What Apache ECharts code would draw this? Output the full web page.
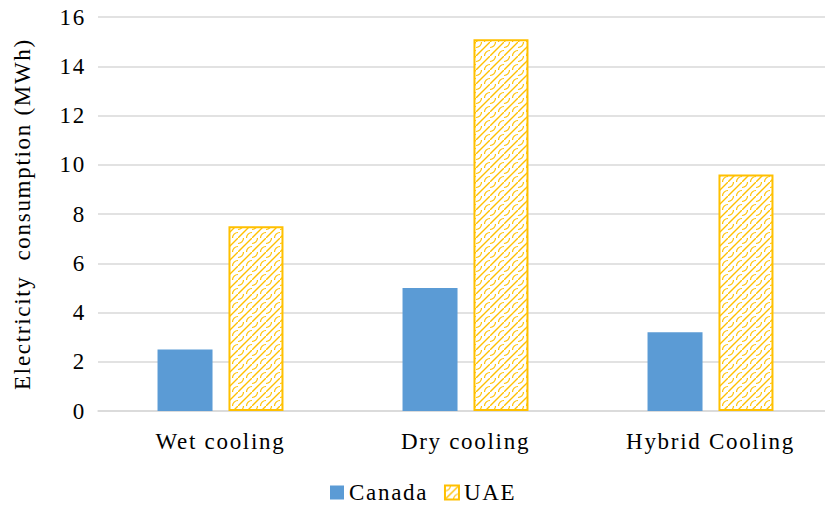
<!DOCTYPE html>
<html>
<head>
<meta charset="utf-8">
<script src="https://cdn.jsdelivr.net/npm/echarts@6/dist/echarts.min.js"></script>
<style>
  html, body { margin: 0; padding: 0; background: #fff; }
  #chart { width: 825px; height: 508px; }
  /* slightly open tracking for all chart text */
  #chart svg text { letter-spacing: 1.7px; }
</style>
</head>
<body>
<div id="chart"></div>
<script>
// Electricity consumption per cooling technology
const categories = ['Wet cooling', 'Dry cooling', 'Hybrid Cooling'];
const canadaValues = [2.5, 5.0, 3.2];
const uaeValues = [7.5, 15.1, 9.6];
const yTicks = [0, 2, 4, 6, 8, 10, 12, 14, 16];

const FONT = '"Liberation Serif", "Times New Roman", serif';
const BLUE = '#5B9BD5';
const GOLD = '#FFC000';

// Small repeating lattice tile used to fill the UAE bars
function latticeTile() {
  const s = 14;
  const c = document.createElement('canvas');
  c.width = s; c.height = s;
  const g = c.getContext('2d');
  g.fillStyle = '#fff';
  g.fillRect(0, 0, s, s);
  g.strokeStyle = GOLD;
  g.lineCap = 'round';
  // rising diagonal strands
  g.lineWidth = 1.4;
  g.beginPath();
  g.moveTo(-1, s + 1); g.lineTo(s + 1, -1);
  g.stroke();
  // scalloped cross strands between the diagonals
  g.lineWidth = 1.2;
  g.beginPath();
  g.arc(0, 0, 5.5, 0, Math.PI / 2);
  g.stroke();
  g.beginPath();
  g.arc(s, s, 5.5, Math.PI, Math.PI * 1.5);
  g.stroke();
  return c;
}
const uaeFill = { image: latticeTile(), repeat: 'repeat' };

const chart = echarts.init(document.getElementById('chart'), null, { renderer: 'svg' });
chart.setOption({
  animation: false,
  backgroundColor: '#fff',
  grid: { left: 98, top: 17, width: 735, height: 394, containLabel: false, outerBoundsMode: 'none' },
  legend: {
    top: 476,
    left: 325,
    itemWidth: 14,
    itemHeight: 14,
    itemGap: 26,
    textStyle: { fontFamily: FONT, fontSize: 23, color: '#000' },
    data: [
      { name: 'Canada', icon: 'rect', itemStyle: { color: BLUE } },
      { name: 'UAE', icon: 'rect', itemStyle: { color: uaeFill, borderColor: GOLD, borderWidth: 2 } }
    ]
  },
  xAxis: {
    type: 'category',
    data: categories,
    axisLine: { lineStyle: { color: '#D9D9D9', width: 1.5 } },
    axisTick: { show: false },
    axisLabel: { fontFamily: FONT, fontSize: 23, color: '#000', margin: 19 }
  },
  yAxis: {
    type: 'value',
    min: yTicks[0],
    max: yTicks[yTicks.length - 1],
    interval: 2,
    name: 'Electricity  consumption (MWh)',
    nameLocation: 'middle',
    nameGap: 64,
    nameTextStyle: { fontFamily: FONT, fontSize: 23, color: '#000' },
    axisLine: { show: false },
    axisTick: { show: false },
    axisLabel: { fontFamily: FONT, fontSize: 23, color: '#000', margin: 12 },
    splitLine: { lineStyle: { color: '#D9D9D9', width: 1.5 } }
  },
  series: [
    {
      name: 'Canada',
      type: 'bar',
      data: canadaValues,
      barWidth: 55,
      barGap: '29%',
      itemStyle: { color: BLUE }
    },
    {
      name: 'UAE',
      type: 'bar',
      data: uaeValues,
      barWidth: 55,
      barGap: '29%',
      itemStyle: { color: uaeFill, borderColor: GOLD, borderWidth: 2 }
    }
  ]
});
</script>
</body>
</html>
